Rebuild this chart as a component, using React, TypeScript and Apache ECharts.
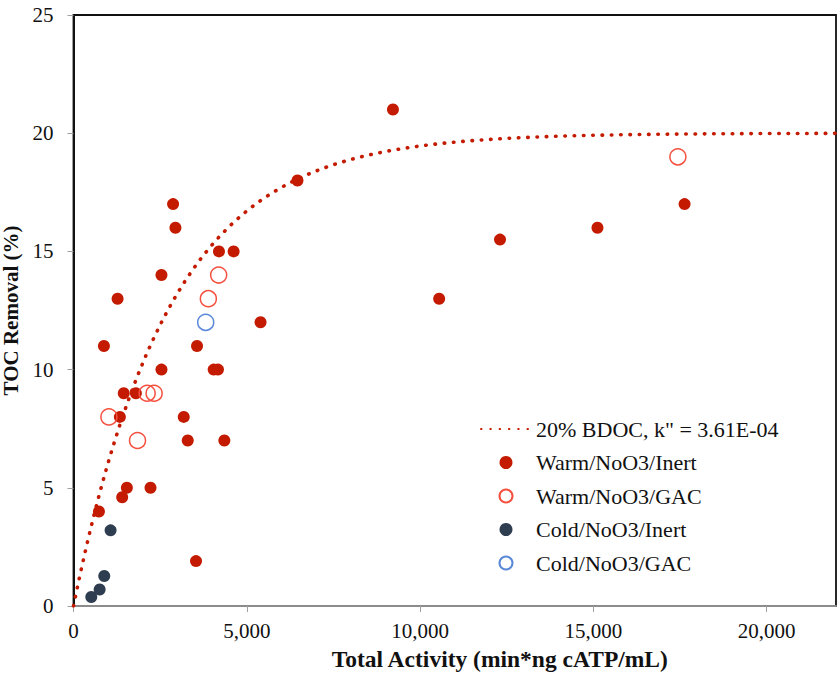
import React, { useEffect, useRef } from "react";
import * as echarts from "echarts";

// Warm / NoO3 / Inert columns: [total activity, TOC removal %]
const warmInert: [number, number][] = [
  [878, 11], [1272, 13], [2873, 17], [2941, 16], [4197, 15], [4620, 15],
  [2538, 14], [5397, 12], [3564, 11], [2538, 10], [4045, 10], [4168, 10],
  [1450, 9], [1800, 9], [1338, 8], [3181, 8], [3296, 7], [4352, 7],
  [1540, 5], [2222, 5], [1405, 4.6], [734, 4], [3535, 1.9], [6462, 18],
  [9217, 21], [17631, 17], [15118, 16], [12306, 15.5], [10550, 13],
];
// Warm / NoO3 / GAC columns
const warmGac: [number, number][] = [
  [1022, 8], [1847, 7], [2125, 9], [2326, 9], [3891, 13], [4188, 14], [17438, 19],
];
// Cold / NoO3 / Inert columns
const coldInert: [number, number][] = [
  [513, 0.38], [754, 0.7], [887, 1.27], [1070, 3.2],
];
// Cold / NoO3 / GAC columns
const coldGac: [number, number][] = [[3814, 12]];

// First-order BDOC model: removal = BDOC * (1 - exp(-k'' * activity))
const BDOC_PERCENT = 20;
const K_RATE = 3.61e-4;
const FIT_LABEL = '20% BDOC, k" = 3.61E-04';
const X_MAX = 22000;
const FIT_STEP = 100;

const fitCurve: [number, number][] = [];
for (let x = 0; x <= X_MAX; x += FIT_STEP) {
  fitCurve.push([x, BDOC_PERCENT * (1 - Math.exp(-K_RATE * x))]);
}

const FONT = "'Liberation Serif', 'Times New Roman', serif";

export default function App() {
  const ref = useRef<HTMLDivElement>(null);

  useEffect(() => {
    if (!ref.current) return;
    const chart = echarts.init(ref.current, null, { renderer: "svg" });
    chart.setOption({
      animation: false,
      backgroundColor: "#ffffff",
      grid: {
        left: 73.5,
        right: 2,
        top: 15,
        bottom: 71,
        containLabel: false,
        outerBoundsMode: "none",
        show: true,
        borderColor: "#111",
        borderWidth: 1.8,
        backgroundColor: "transparent",
      },
      legend: {
        left: 475,
        top: 413,
        orient: "vertical",
        itemWidth: 50,
        itemHeight: 13,
        itemGap: 11.5,
        textStyle: { fontFamily: FONT, fontSize: 22, color: "#111", lineHeight: 22 },
        data: [
          { name: FIT_LABEL, itemStyle: { opacity: 0 } },
          { name: "Warm/NoO3/Inert", icon: "circle" },
          { name: "Warm/NoO3/GAC", icon: "circle" },
          { name: "Cold/NoO3/Inert", icon: "circle" },
          { name: "Cold/NoO3/GAC", icon: "circle" },
        ],
      },
      xAxis: {
        type: "value",
        min: 0,
        max: X_MAX,
        interval: 5000,
        name: "Total Activity (min*ng cATP/mL)",
        nameLocation: "middle",
        nameGap: 41,
        nameTextStyle: {
          fontFamily: FONT,
          fontSize: 23.5,
          fontWeight: "bold",
          color: "#111",
          padding: [0, 0, 0, 90],
        },
        axisLine: { show: true, lineStyle: { color: "#8c8c8c", width: 2 } },
        axisTick: { show: true, inside: false, length: 6, lineStyle: { color: "#a0a0a0", width: 1 } },
        axisLabel: {
          fontFamily: FONT,
          fontSize: 21,
          color: "#111",
          margin: 14,
          showMaxLabel: false,
          formatter: (v: number) => v.toLocaleString("en-US"),
        },
        splitLine: { show: false },
      },
      yAxis: {
        type: "value",
        min: 0,
        max: 25,
        interval: 5,
        name: "TOC Removal (%)",
        nameLocation: "middle",
        nameGap: 46,
        nameTextStyle: {
          fontFamily: FONT,
          fontSize: 21,
          lineHeight: 21,
          fontWeight: "bold",
          color: "#111",
        },
        axisLine: { show: true, lineStyle: { color: "#111", width: 2 } },
        axisTick: { show: true, inside: false, length: 6, lineStyle: { color: "#a0a0a0", width: 1 } },
        axisLabel: { fontFamily: FONT, fontSize: 21, color: "#111", margin: 20 },
        splitLine: { show: false },
      },
      series: [
        {
          name: FIT_LABEL,
          type: "line",
          data: fitCurve,
          showSymbol: false,
          symbol: "none",
          smooth: false,
          z: 1,
          itemStyle: { color: "#C41A00" },
          lineStyle: { color: "#C41A00", width: 3.6, type: [0.5, 8.8], cap: "round" },
        },
        {
          name: "Warm/NoO3/Inert",
          type: "scatter",
          data: warmInert,
          symbol: "circle",
          symbolSize: 12,
          z: 3,
          itemStyle: { color: "#C41A00", opacity: 1 },
        },
        {
          name: "Warm/NoO3/GAC",
          type: "scatter",
          data: warmGac,
          symbol: "circle",
          symbolSize: 16,
          z: 3,
          itemStyle: { color: "rgba(255,255,255,0)", borderColor: "#F5503F", borderWidth: 1.5, opacity: 1 },
        },
        {
          name: "Cold/NoO3/Inert",
          type: "scatter",
          data: coldInert,
          symbol: "circle",
          symbolSize: 12,
          z: 3,
          itemStyle: { color: "#2F3D50", opacity: 1 },
        },
        {
          name: "Cold/NoO3/GAC",
          type: "scatter",
          data: coldGac,
          symbol: "circle",
          symbolSize: 16,
          z: 3,
          itemStyle: { color: "rgba(255,255,255,0)", borderColor: "#5A88D8", borderWidth: 1.5, opacity: 1 },
        },
      ],
    });
    return () => chart.dispose();
  }, []);

  return (
    <div
      ref={ref}
      style={{ position: "fixed", left: 0, top: 0, width: 838, height: 677, background: "#fff" }}
    />
  );
}
